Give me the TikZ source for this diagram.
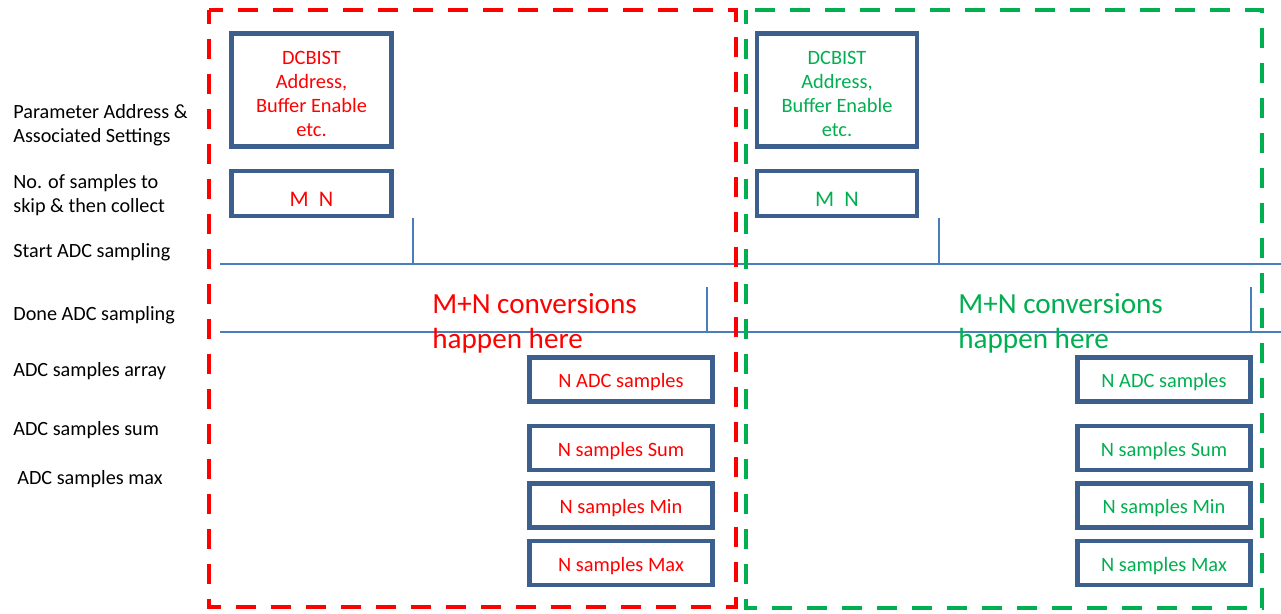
\documentclass[tikz,border=0pt]{standalone}
\usepackage{fontspec}
\setmainfont{Carlito}
\usepackage{xcolor}
\usetikzlibrary{positioning}
\definecolor{boxblue}{HTML}{3D5F8E}
\definecolor{lineblue}{HTML}{4A7EBB}
\definecolor{zonered}{HTML}{FF0000}
\definecolor{zonegreen}{HTML}{00B050}

\begin{document}
\begin{tikzpicture}[
    x=0.02cm, y=-0.02cm,
    rowlabel/.style={anchor=base west, inner sep=0pt, align=left, font=\fontsize{11.5}{14.2}\selectfont},
    regbox/.style={rectangle, draw=boxblue, line width=2.6pt, align=center, inner sep=0pt, minimum width=3.2cm, text depth=0pt, font=\fontsize{11.6}{13.8}\selectfont},
    setbox/.style={regbox, minimum height=2.26cm, text height=53.3pt},
    mnbox/.style={regbox, minimum height=0.9cm, text height=15pt, font=\fontsize{12.7}{15}\selectfont},
    smpbox/.style={regbox, minimum height=0.88cm, text height=9.5pt},
    zone/.style={dash pattern=on 0.4cm off 0.3cm, dash phase=0.12cm, line width=2.8pt},
    signal/.style={draw=lineblue, line width=0.9pt},
    note/.style={anchor=base west, inner sep=0pt, align=left, font=\fontsize{16.6}{20.4}\selectfont}
]
    \useasboundingbox (0,0) rectangle (1281,614);
    \fill[white] (0,0) rectangle (1281,614);

    % Row labels
    \node (lparam) [rowlabel] at (13,143) {Parameter Address \&\\Associated Settings};
    \node (lskip) [rowlabel] at (13,213) {No. of samples to\\skip \& then collect};
    \node (lstart) [rowlabel] at (13,258) {Start ADC sampling};
    \node (ldone) [rowlabel] at (13,321) {Done ADC sampling};
    \node (larray) [rowlabel] at (13,377) {ADC samples array};
    \node (lsum) [rowlabel] at (13,436) {ADC samples sum};
    \node (lmax) [rowlabel] at (17,485) {ADC samples max};

    % Signals
    \draw [signal] (220,264) -- (1281,264);
    \draw [signal] (220,332) -- (1281,332);
    \draw [signal] (413,218) -- (413,264);
    \draw [signal] (707,287) -- (707,332);
    \draw [signal] (939,218) -- (939,264);
    \draw [signal] (1251,287) -- (1251,332);

    % First run (red)
    \node (dcbistR) [setbox, text=zonered] at (311.5,90) {DCBIST\\Address,\\Buffer Enable\\etc.};
    \node (mnR) [mnbox, text=zonered, below=0.4cm of dcbistR] {M\ \ N};
    \node (convR) [note, text=zonered] at (432,349) {M+N conversions\\happen here};
    \node (adcR) [smpbox, minimum width=3.66cm, text=zonered] at (621,379.5) {N ADC samples};
    \node (sumR) [smpbox, minimum width=3.66cm, text=zonered, below=0.4cm of adcR] {N samples Sum};
    \node (minR) [smpbox, minimum width=3.66cm, text=zonered, below=0.18cm of sumR] {N samples Min};
    \node (maxR) [smpbox, minimum width=3.66cm, text=zonered, below=0.18cm of minR] {N samples Max};

    % Second run (green)
    \node (dcbistG) [setbox, text=zonegreen] at (837,90) {DCBIST\\Address,\\Buffer Enable\\etc.};
    \node (mnG) [mnbox, text=zonegreen, below=0.4cm of dcbistG] {M\ \ N};
    \node (convG) [note, text=zonegreen] at (958,349) {M+N conversions\\happen here};
    \node (adcG) [smpbox, minimum width=3.46cm, text=zonegreen] at (1164,379.5) {N ADC samples};
    \node (sumG) [smpbox, minimum width=3.46cm, text=zonegreen, below=0.4cm of adcG] {N samples Sum};
    \node (minG) [smpbox, minimum width=3.46cm, text=zonegreen, below=0.18cm of sumG] {N samples Min};
    \node (maxG) [smpbox, minimum width=3.46cm, text=zonegreen, below=0.18cm of minG] {N samples Max};

    % Run frames
    \draw [zone, draw=zonered] (209,10) rectangle (736,607);
    \draw [zone, draw=zonegreen] (746,10) rectangle (1262,608);

\end{tikzpicture}
\end{document}
